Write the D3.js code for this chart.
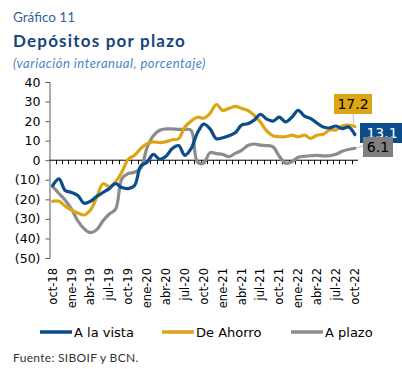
<!DOCTYPE html>
<html><head><meta charset="utf-8">
<script src="https://cdn.jsdelivr.net/npm/d3@7/dist/d3.min.js"></script>
<style>
html,body{margin:0;padding:0;background:#fff;}
svg{display:block;}
</style></head>
<body>
<script>
const categories = ["oct-18","nov-18","dic-18","ene-19","feb-19","mar-19","abr-19","may-19","jun-19","jul-19","ago-19","sep-19",
"oct-19","nov-19","dic-19","ene-20","feb-20","mar-20","abr-20","may-20","jun-20","jul-20","ago-20","sep-20",
"oct-20","nov-20","dic-20","ene-21","feb-21","mar-21","abr-21","may-21","jun-21","jul-21","ago-21","sep-21",
"oct-21","nov-21","dic-21","ene-22","feb-22","mar-22","abr-22","may-22","jun-22","jul-22","ago-22","sep-22","oct-22"];
const tickLabels = ["oct-18","ene-19","abr-19","jul-19","oct-19","ene-20","abr-20","jul-20","oct-20","ene-21","abr-21","jul-21","oct-21","ene-22","abr-22","jul-22","oct-22"];
const aLaVista = [-13,-9.5,-15.5,-16.5,-18,-22,-21,-18.5,-16.5,-14.5,-12,-14,
-14.5,-13,-3,-1,3,0.5,2,6,7.5,2.5,6,14,
18.5,16,11,11.5,12.5,14,18,18.7,20.5,23.5,21,20,
22,19.6,22,25.5,22.5,21.3,19,17,16.5,17.5,16.2,17,13.1];
const deAhorro = [-21,-21,-23.5,-25.5,-27,-28,-25.5,-19,-12,-13.5,-11,-6,
0.5,2.5,6,8.5,9.4,9,9.5,10.5,11,17,20,22,
21.5,24,28.5,25.5,26.5,27.5,26.5,25.5,23,19.5,15,12.5,
12,12,12.8,12,12.8,11.2,12.8,13.3,15.5,15.5,17.5,18,17.2];
const aPlazo = [-13.5,-17,-20.5,-25,-31,-35,-37,-35.5,-31,-27.5,-25,-9.5,
-6.8,-6.2,-4,6.5,12.5,15.3,16,16,15.8,15.8,15.3,-1,
-1.5,3.9,3.4,3,1.8,3.5,5,7.5,8.3,7.7,7.5,6.8,
2,-1.5,-0.8,1.5,2,2.3,2.5,2.2,2.3,3,4.6,5.5,6.1];
const yTicks = [40,30,20,10,0,-10,-20,-30,-40,-50];
const seriesNames = ["A la vista","De Ahorro","A plazo"];
const seriesColors = ["#0B4C8A","#DBA514","#8C8C8C"];
const lastLabels = ["13.1","17.2","6.1"];

const W=402,H=369;
const svg=d3.select("body").append("svg").attr("width",W).attr("height",H);
const font="'DejaVu Sans', Verdana, sans-serif";

svg.append("text").attr("x",13).attr("y",22).text("Gráfico 11")
  .attr("font-family","Lato, sans-serif").attr("font-size",13.5).attr("fill","#2F64A3");
svg.append("text").attr("x",13).attr("y",47).text("Depósitos por plazo")
  .attr("font-family","Lato, sans-serif").attr("font-weight","bold").attr("font-size",17).attr("fill","#17457A").attr("letter-spacing",1.2);
svg.append("text").attr("x",13).attr("y",68).text("(variación interanual, porcentaje)")
  .attr("font-family","Lato, sans-serif").attr("font-style","italic").attr("font-size",13).attr("fill","#4A86C5").attr("letter-spacing",0.5);

const x=d3.scalePoint().domain(categories).range([49.5,358]).padding(0.5);
const band=x.step();
const y=d3.scaleLinear().domain([-50,40]).range([258,82]);

// y axis
const yAxis=svg.append("g").attr("transform","translate(49.5,0)")
  .call(d3.axisLeft(y).tickValues(yTicks).tickSize(4).tickPadding(5)
    .tickFormat(d=>d<0?"("+Math.abs(d)+")":String(d)));
yAxis.select(".domain").attr("stroke","#595959");
yAxis.selectAll(".tick line").attr("stroke","#595959");
yAxis.selectAll("text").attr("font-family",font).attr("font-size",12.5).attr("fill","#000");

// zero axis with ticks at category boundaries
const xAxis=svg.append("g").attr("transform","translate(0,"+y(0)+")");
xAxis.append("line").attr("x1",49.5).attr("x2",358).attr("y1",0).attr("y2",0).attr("stroke","#000").attr("stroke-width",1);
xAxis.selectAll("line.t").data(categories.slice(1)).enter().append("line")
  .attr("x1",d=>Math.round(x(d)-band/2)+0.5).attr("x2",d=>Math.round(x(d)-band/2)+0.5)
  .attr("y1",0).attr("y2",4).attr("stroke","#000");

// x labels
svg.append("g").selectAll("text").data(tickLabels).enter().append("text")
  .attr("transform",d=>"translate("+(x(d)+4)+",268) rotate(-90)")
  .attr("text-anchor","end").attr("font-family",font).attr("font-size",11.5).attr("fill","#000")
  .text(d=>d);

// lines
const allSeries=[aLaVista,deAhorro,aPlazo];
const line=d3.line().x((d,i)=>x(categories[i])).y(d=>y(d)).curve(d3.curveCatmullRom.alpha(0.5));
[2,1,0].forEach(k=>{
  svg.append("path").attr("d",line(allSeries[k])).attr("fill","none")
    .attr("stroke",seriesColors[k]).attr("stroke-width",3.2).attr("stroke-linejoin","round").attr("stroke-linecap","round");
});

// end labels
const lastX=x(categories[categories.length-1]);
const lastIdx=categories.length-1;
svg.append("line").attr("x1",353).attr("x2",lastX-1).attr("y1",114).attr("y2",y(deAhorro[lastIdx])-2).attr("stroke","#BFBFBF").attr("stroke-width",1);
svg.append("line").attr("x1",lastX+1).attr("x2",363).attr("y1",y(aPlazo[lastIdx])).attr("y2",146).attr("stroke","#BFBFBF").attr("stroke-width",1);

function box(x0,y0,w,h,fill,txt,tc){
  svg.append("rect").attr("x",x0).attr("y",y0).attr("width",w).attr("height",h).attr("fill",fill);
  svg.append("text").attr("x",x0+w/2).attr("y",y0+h/2+5).attr("text-anchor","middle")
    .attr("font-family",font).attr("font-size",14).attr("fill",tc).text(txt);
}
box(334,94,38,20,seriesColors[1],lastLabels[1],"#000");
box(360,123,44,20,seriesColors[0],lastLabels[0],"#fff");
box(363,137,30,20,"#7F7F7F",lastLabels[2],"#000");

// legend
const legX=[40,162,291];
seriesNames.forEach((n,i)=>{
  svg.append("line").attr("x1",legX[i]).attr("x2",legX[i]+32).attr("y1",332).attr("y2",332)
    .attr("stroke",seriesColors[i]).attr("stroke-width",3.5);
  svg.append("text").attr("x",legX[i]+34).attr("y",337).text(n)
    .attr("font-family",font).attr("font-size",13).attr("fill","#000");
});

svg.append("text").attr("x",13).attr("y",362).text("Fuente: SIBOIF y BCN.")
  .attr("font-family","Lato, sans-serif").attr("font-size",12).attr("fill","#333").attr("letter-spacing",0.3);
</script>
</body></html>
